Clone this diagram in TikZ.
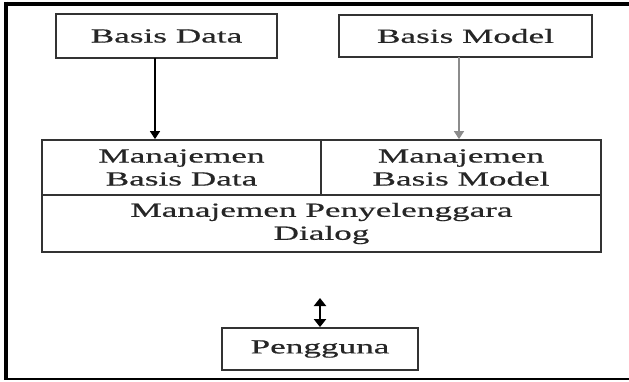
\documentclass[tikz,border=0pt]{standalone}
\usepackage{fontspec}
\setmainfont{Liberation Serif}[FakeStretch=1.76,FakeBold=0.6]
\usetikzlibrary{arrows.meta}
\begin{document}
\begin{tikzpicture}[x=1pt,y=-1pt,
  box/.style={draw=black!80,line width=1.8pt,inner sep=0pt,align=center,
    text=black!85,font=\fontsize{20}{23}\selectfont},
  arr/.style={line width=1.6pt,-{Triangle[width=10pt,length=8pt]}},
  dbl/.style={line width=2.6pt,{Triangle[width=12pt,length=8pt]}-{Triangle[width=12pt,length=8pt]}}]
\useasboundingbox (0,0) rectangle (629,381);
% frame
\draw[line width=4pt] (4,3.5) -- (629,3.5);
\draw[line width=4pt] (5.5,1.5) -- (5.5,380);
\draw[line width=2.5pt] (4,379) -- (629,379);
% top boxes
\node[box,minimum width=221pt,minimum height=44pt] (bd) at (166.5,36) {Basis Data};
\node[box,minimum width=253pt,minimum height=42pt] (bm) at (465.5,36) {Basis Model};
% block
\node[box,minimum width=279pt,minimum height=55pt] (mbd) at (181.5,167.5) {Manajemen\\Basis Data};
\node[box,minimum width=280pt,minimum height=55pt] (mbm) at (461,167.5) {Manajemen\\Basis Model};
\node[box,minimum width=559pt,minimum height=57pt] (mpd) at (321.5,223.5) {Manajemen Penyelenggara\\Dialog};
% user
\node[box,minimum width=196pt,minimum height=42pt] (pg) at (320,349) {Pengguna};
% connectors
\coordinate (a1) at (155,58);
\coordinate (a2) at (459,57);
\coordinate (a3) at (320,298);
\draw[arr,black] (a1) -- (a1 |- mbd.north);
\draw[arr,black!45] (a2) -- (a2 |- mbm.north);
\draw[dbl,black] (a3) -- (a3 |- pg.north);
\end{tikzpicture}
\end{document}
